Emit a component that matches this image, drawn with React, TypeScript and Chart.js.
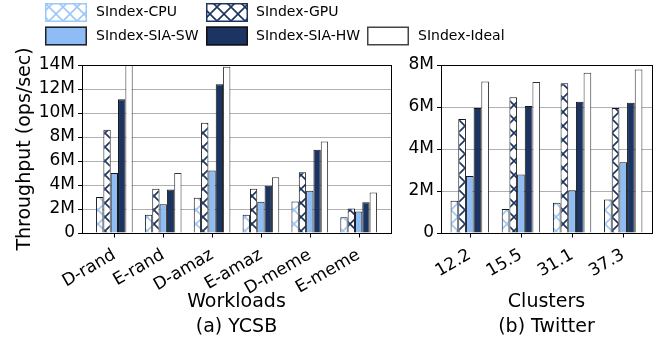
import React, { useEffect, useRef } from 'react';
import { Chart, registerables } from 'chart.js';

Chart.register(...registerables);

const seriesNames = ['SIndex-CPU', 'SIndex-GPU', 'SIndex-SIA-SW', 'SIndex-SIA-HW', 'SIndex-Ideal'];

// (a) YCSB — throughput in M ops/sec
const ycsbWorkloads = ['D-rand', 'E-rand', 'D-amaz', 'E-amaz', 'D-meme', 'E-meme'];
const ycsbCPU = [3.0, 1.52, 2.93, 1.52, 2.62, 1.32];
const ycsbGPU = [8.6, 3.68, 9.18, 3.68, 5.07, 2.04];
const ycsbSW = [5.0, 2.4, 5.2, 2.6, 3.52, 1.79];
const ycsbHW = [11.15, 3.63, 12.4, 3.93, 6.93, 2.57];
const ycsbIdeal = [14.6, 5.0, 13.85, 4.65, 7.62, 3.38];
const ycsbYMax = 14;

// (b) Twitter — throughput in M ops/sec
const twitterClusters = ['12.2', '15.5', '31.1', '37.3'];
const twCPU = [1.54, 1.14, 1.44, 1.6];
const twGPU = [5.43, 6.46, 7.13, 5.95];
const twSW = [2.71, 2.79, 2.03, 3.37];
const twHW = [5.95, 6.05, 6.25, 6.2];
const twIdeal = [7.22, 7.19, 7.63, 7.79];
const twYMax = 8;

const yStep = 2;

const FONT = 'DejaVu Sans';
const LIGHT = '#8ebcf5';
const LIGHT_HATCH = '#9cc7fa';
const NAVY = '#1b3461';
const EDGE = '#151515';

function hatch(ctx: CanvasRenderingContext2D, color: string) {
  const s = 14;
  const c = document.createElement('canvas');
  c.width = s;
  c.height = s;
  const g = c.getContext('2d')!;
  g.fillStyle = '#ffffff';
  g.fillRect(0, 0, s, s);
  g.strokeStyle = color;
  g.lineWidth = 1.6;
  g.beginPath();
  g.moveTo(-2, -2);
  g.lineTo(s + 2, s + 2);
  g.moveTo(s + 2, -2);
  g.lineTo(-2, s + 2);
  g.stroke();
  return ctx.createPattern(c, 'repeat')!;
}

function tickLabel(v: number) {
  return v === 0 ? '0' : `${v}M`;
}

// axes box (all four spines) + category tick marks under the x axis
const borderPlugin = {
  id: 'boxBorder',
  afterDatasetsDraw(chart: any) {
    const { ctx, chartArea } = chart;
    ctx.save();
    ctx.strokeStyle = '#000';
    ctx.lineWidth = 1;
    const l = Math.round(chartArea.left) + 0.5;
    const t = Math.round(chartArea.top) + 0.5;
    const r = Math.round(chartArea.right) + 0.5;
    const b = Math.round(chartArea.bottom) + 0.5;
    ctx.strokeRect(l, t, r - l, b - t);
    const xs = chart.scales.x;
    const n = chart.data.datasets[0].data.length;
    ctx.beginPath();
    for (let i = 0; i < n; i++) {
      const px = Math.round(xs.getPixelForValue(i)) + 0.5;
      ctx.moveTo(px, b);
      ctx.lineTo(px, b + 4);
    }
    ctx.stroke();
    ctx.restore();
  },
};

const legendPlugin = {
  id: 'gridLegend',
  afterDraw(chart: any) {
    const ctx = chart.ctx as CanvasRenderingContext2D;
    // column-major 3-column legend: slot = [swatchX, swatchY, textX]
    const slots = [
      [45, 3, 96],
      [206, 3, 256],
      [45, 26.5, 96],
      [206, 26.5, 256],
      [367, 26.5, 418],
    ];
    ctx.save();
    chart.data.datasets.forEach((ds: any, i: number) => {
      const [x, y, tx] = slots[i];
      const w = 42;
      const h = 19;
      ctx.fillStyle = ds.backgroundColor;
      ctx.fillRect(x, y, w, h);
      ctx.strokeStyle = ds.legendBorder;
      ctx.lineWidth = 1.5;
      ctx.strokeRect(x + 0.75, y + 0.75, w - 1.5, h - 1.5);
      ctx.fillStyle = '#000';
      ctx.font = `14px "${FONT}"`;
      ctx.textBaseline = 'middle';
      ctx.textAlign = 'left';
      ctx.fillText(ds.label, tx, y + h / 2);
    });
    ctx.restore();
  },
};

function makeDatasets(ctx: CanvasRenderingContext2D, values: number[][]) {
  const styles = [
    { bg: hatch(ctx, LIGHT_HATCH), border: EDGE, legendBorder: LIGHT_HATCH },
    { bg: hatch(ctx, NAVY), border: EDGE, legendBorder: NAVY },
    { bg: LIGHT, border: EDGE, legendBorder: '#222' },
    { bg: NAVY, border: EDGE, legendBorder: '#111' },
    { bg: '#ffffff', border: '#333', legendBorder: '#444' },
  ];
  return values.map((vals, i) => ({
    label: seriesNames[i],
    data: vals.map((v, j) => ({ x: j, y: v })),
    backgroundColor: styles[i].bg,
    borderColor: styles[i].border,
    legendBorder: styles[i].legendBorder,
    borderWidth: 1,
    categoryPercentage: 0.75,
    barPercentage: 1.0,
  }));
}

interface Cfg {
  cats: string[];
  values: number[][];
  yMax: number;
  yWidth: number;
  padRight: number;
  yTitle?: string;
  xTitle: string[];
  legend: boolean;
}

function makeConfig(ctx: CanvasRenderingContext2D, c: Cfg): any {
  const n = c.cats.length;
  const margin = 0.05 * (n - 1 + 0.75);
  return {
    type: 'bar',
    data: { datasets: makeDatasets(ctx, c.values) },
    plugins: c.legend ? [borderPlugin, legendPlugin] : [borderPlugin],
    options: {
      responsive: false,
      animation: false,
      events: [],
      devicePixelRatio: 1,
      layout: { padding: { left: 0, top: 65, right: c.padRight, bottom: 0 } },
      plugins: { legend: { display: false }, tooltip: { enabled: false } },
      scales: {
        x: {
          type: 'linear',
          bounds: 'data',
          min: -0.375 - margin,
          max: n - 1 + 0.375 + margin,
          offset: false,
          afterBuildTicks: (axis: any) => {
            axis.ticks = c.cats.map((_, i) => ({ value: i }));
          },
          afterFit: (s: any) => {
            s.height = 110;
          },
          ticks: {
            autoSkip: false,
            minRotation: 30,
            maxRotation: 30,
            padding: 12,
            color: '#000',
            font: { family: FONT, size: 17 },
            callback: (v: number) => (Number.isInteger(v) ? c.cats[v] ?? '' : ''),
          },
          grid: {
            drawOnChartArea: false,
            drawTicks: false,
          },
          border: { display: false },
          title: {
            display: true,
            text: c.xTitle,
            color: '#000',
            font: { family: FONT, size: 19, lineHeight: 1.32 },
            padding: { top: 0, bottom: 3.5 },
          },
        },
        y: {
          min: 0,
          max: c.yMax,
          afterFit: (s: any) => {
            s.width = c.yWidth;
          },
          ticks: {
            stepSize: yStep,
            padding: 3,
            color: '#000',
            font: { family: FONT, size: 17 },
            callback: (v: number) => tickLabel(v),
          },
          grid: {
            color: '#b0b0b0',
            lineWidth: 1,
            tickLength: 4,
            tickColor: '#000',
          },
          border: { display: false },
          title: {
            display: !!c.yTitle,
            text: c.yTitle ?? '',
            color: '#000',
            font: { family: FONT, size: 19, lineHeight: 1.2 },
            padding: { top: 13.5, bottom: 0 },
          },
        },
      },
    },
  };
}

export default function App() {
  const leftRef = useRef<HTMLCanvasElement>(null);
  const rightRef = useRef<HTMLCanvasElement>(null);

  useEffect(() => {
    document.body.style.margin = '0';
    const lctx = leftRef.current!.getContext('2d')!;
    const rctx = rightRef.current!.getContext('2d')!;
    const left = new Chart(
      leftRef.current!,
      makeConfig(lctx, {
        cats: ycsbWorkloads,
        values: [ycsbCPU, ycsbGPU, ycsbSW, ycsbHW, ycsbIdeal],
        yMax: ycsbYMax,
        yWidth: 82,
        padRight: 269,
        yTitle: 'Throughput (ops/sec)',
        xTitle: ['Workloads', '(a) YCSB'],
        legend: true,
      })
    );
    const right = new Chart(
      rightRef.current!,
      makeConfig(rctx, {
        cats: twitterClusters,
        values: [twCPU, twGPU, twSW, twHW, twIdeal],
        yMax: twYMax,
        yWidth: 46,
        padRight: 8,
        xTitle: ['Clusters', '(b) Twitter'],
        legend: false,
      })
    );
    return () => {
      left.destroy();
      right.destroy();
    };
  }, []);

  return (
    <div style={{ position: 'absolute', left: 0, top: 0, width: 660, height: 343, background: '#fff' }}>
      <canvas ref={leftRef} width={660} height={343} style={{ position: 'absolute', left: 0, top: 0 }} />
      <canvas ref={rightRef} width={265} height={343} style={{ position: 'absolute', left: 395, top: 0 }} />
    </div>
  );
}
